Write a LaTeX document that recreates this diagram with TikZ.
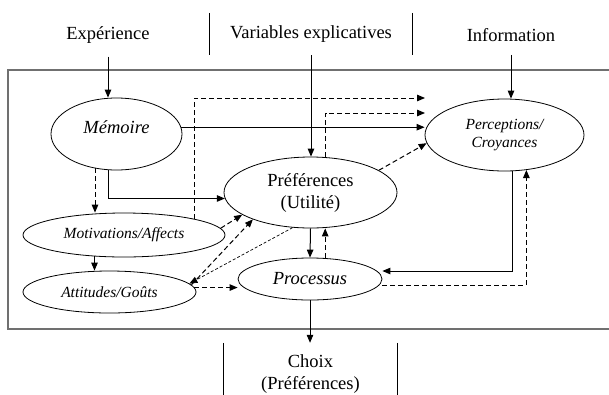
\documentclass[tikz,border=0pt]{standalone}
\usepackage{fontspec}
\setmainfont{Liberation Serif}
\usetikzlibrary{arrows.meta,positioning,shapes.geometric,calc}
\definecolor{FrameGray}{RGB}{112,112,112}
\newcommand{\bigtxt}{\fontsize{18.5}{22}\selectfont}
\newcommand{\smalltxt}{\fontsize{15.5}{18}\selectfont\itshape}
\tikzset{
  outtext/.style={font=\bigtxt,inner sep=2pt,align=center},
  bubble/.style={ellipse,draw,line width=0.8pt,inner sep=0pt,align=center},
  sides/.style={line width=0.7pt},
  arrow/.style={-{Triangle[length=8pt,width=6.5pt]},line width=1pt},
  darrow/.style={arrow,dash pattern=on 5pt off 3pt},
  farrow/.style={arrow,line width=0.7pt,dash pattern=on 3pt off 2pt},
  fromtext/.style={shorten <=11pt}
}
\begin{document}
\begin{tikzpicture}[x=1pt,y=-1pt]
  \useasboundingbox (0,0) rectangle (609,394);

  % frame (open on the right)
  \draw[FrameGray,line width=1.4pt] (609,70) -- (8,70) -- (8,329) -- (609,329);

  % inputs
  \node[outtext] (exper) at (108,35) {Expérience};
  \node[outtext,minimum width=202pt,minimum height=42pt] (varexp) at (311,34) {Variables explicatives};
  \draw[sides] (varexp.north west) -- (varexp.south west) (varexp.north east) -- (varexp.south east);
  \node[outtext] (info) at (511,35) {Information};

  % ellipses
  \node[bubble,minimum width=131pt,minimum height=72pt,font=\bigtxt\itshape,text depth=14pt] (memoire) at (116.5,134) {Mémoire};
  \node[bubble,minimum width=159pt,minimum height=72pt,font=\smalltxt] (percep) at (504.5,135) {Perceptions/\\Croyances};
  \node[bubble,minimum width=173pt,minimum height=71pt,font=\bigtxt] (pref) at (310.5,192.5) {Préférences\\(Utilité)};
  \node[bubble,minimum width=202pt,minimum height=44pt,font=\smalltxt] (motiv) at (124,235) {Motivations/Affects};
  \node[bubble,minimum width=173pt,minimum height=42pt,font=\smalltxt] (attit) at (109.5,292) {Attitudes/Goûts};
  \node[bubble,minimum width=144pt,minimum height=42pt,font=\bigtxt\itshape] (process) at (310,279) {Processus};

  % output
  \node[outtext,minimum width=173pt,minimum height=63pt] (choix) at (310.5,374.5) {Choix\\(Préférences)};
  \draw[sides] (choix.north west) -- (choix.south west) (choix.north east) -- (choix.south east);

  \coordinate (tipA) at (425,98);
  \coordinate (tipB) at (425,113);

  % solid links
  \draw[arrow,fromtext] (exper) -- (exper |- memoire.north);
  \draw[arrow] (varexp) -- (varexp |- pref.north);
  \draw[arrow,fromtext] (info) -- (info |- percep.north);
  \draw[arrow] (memoire.6) -- (memoire.6 -| percep.west);
  \draw[arrow] (memoire.257) |- (pref.184);
  \draw[arrow] (motiv.216) -- (motiv.216 |- attit.north);
  \draw[arrow] (pref.south) -- (process.north);
  \draw[arrow] (percep.282) |- ($(process.east)+(0,-8)$);
  \draw[arrow] (process) -- (process |- choix.north);

  % dashed links
  \draw[darrow] (memoire.238) -- (memoire.238 |- motiv.north);
  \draw[darrow] (motiv.13) |- (tipA);
  \draw[darrow] (pref.67) |- (tipB);
  \draw[darrow] (pref.18) -- (percep.186);
  \draw[darrow] (motiv.4) -- (pref.198);
  \draw[darrow] (attit.5) -- (pref.205);
  \draw[farrow] (pref.243) -- (attit.6);
  \draw[darrow] (attit.3) -- (attit.3 -| process.west);
  \draw[darrow] (process.54) -- (process.54 |- pref.south);
  \draw[darrow] ($(process.east)+(0,6)$) -| (percep.302);
\end{tikzpicture}
\end{document}
